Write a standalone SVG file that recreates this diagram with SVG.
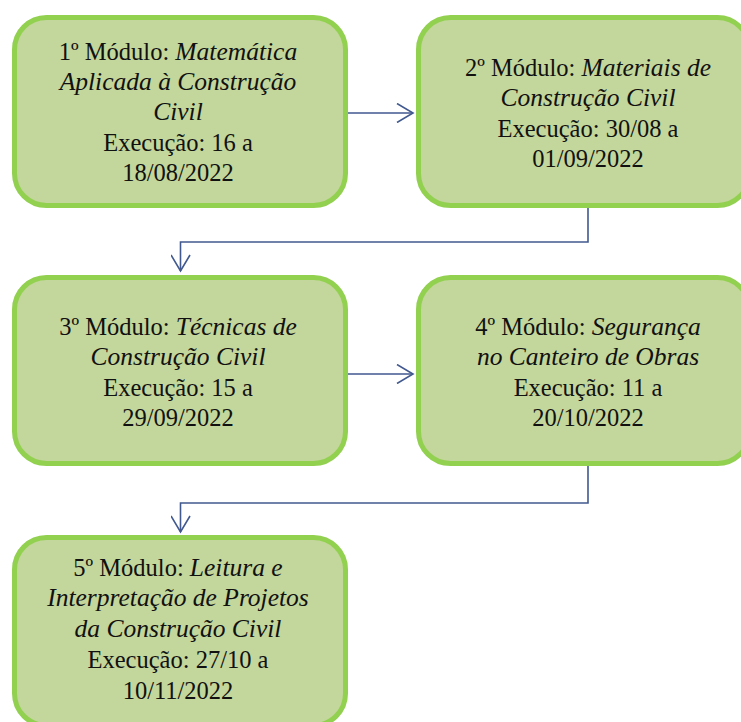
<svg xmlns="http://www.w3.org/2000/svg" width="741" height="722" viewBox="0 0 741 722">
<defs>
<style>
.box{fill:#c3d69b;stroke:#92d050;stroke-width:5}
.t{font-family:"Liberation Serif","Times New Roman",serif;font-size:24.5px;fill:#111;text-anchor:middle}
.i{font-style:italic;font-size:25.5px}
.c{fill:none;stroke:#41598f;stroke-width:1.6}
</style>
<marker id="ah" viewBox="0 0 20 20" refX="18" refY="10" markerWidth="20" markerHeight="20" markerUnits="userSpaceOnUse" orient="auto">
<path d="M2,0.5 L18,10 L2,19.5" fill="none" stroke="#41598f" stroke-width="1.6"/>
</marker>
</defs>
<rect width="741" height="722" fill="#fff"/>
<g id="connectors">
<path class="c" d="M348,113 H413" marker-end="url(#ah)"/>
<path class="c" d="M588,207 V242 H180.5 V271" marker-end="url(#ah)"/>
<path class="c" d="M348,374 H413" marker-end="url(#ah)"/>
<path class="c" d="M588,465 V503 H180.5 V532" marker-end="url(#ah)"/>
</g>
<g id="n1">
<rect class="box" x="14.5" y="17.5" width="331" height="188" rx="32"/>
<text class="t" x="178" y="60">1º Módulo: <tspan class="i">Matemática</tspan></text>
<text class="t i" x="178" y="90">Aplicada à Construção</text>
<text class="t i" x="178" y="120">Civil</text>
<text class="t" x="178" y="151">Execução: 16 a</text>
<text class="t" x="178" y="181">18/08/2022</text>
</g>
<g id="n2">
<rect class="box" x="418.5" y="17.5" width="331" height="188" rx="32"/>
<text class="t" x="588" y="76">2º Módulo: <tspan class="i">Materiais de</tspan></text>
<text class="t i" x="588" y="106">Construção Civil</text>
<text class="t" x="588" y="137">Execução: 30/08 a</text>
<text class="t" x="588" y="167">01/09/2022</text>
</g>
<g id="n3">
<rect class="box" x="14.5" y="277.5" width="331" height="186" rx="32"/>
<text class="t" x="178" y="335">3º Módulo: <tspan class="i">Técnicas de</tspan></text>
<text class="t i" x="178" y="365">Construção Civil</text>
<text class="t" x="178" y="396">Execução: 15 a</text>
<text class="t" x="178" y="426">29/09/2022</text>
</g>
<g id="n4">
<rect class="box" x="418.5" y="277.5" width="331" height="186" rx="32"/>
<text class="t" x="588" y="335">4º Módulo: <tspan class="i">Segurança</tspan></text>
<text class="t i" x="588" y="365">no Canteiro de Obras</text>
<text class="t" x="588" y="396">Execução: 11 a</text>
<text class="t" x="588" y="426">20/10/2022</text>
</g>
<g id="n5">
<rect class="box" x="14.5" y="537.5" width="331" height="188" rx="32"/>
<text class="t" x="178" y="576">5º Módulo: <tspan class="i">Leitura e</tspan></text>
<text class="t i" x="178" y="606">Interpretação de Projetos</text>
<text class="t i" x="178" y="637">da Construção Civil</text>
<text class="t" x="178" y="668">Execução: 27/10 a</text>
<text class="t" x="178" y="699">10/11/2022</text>
</g>
</svg>
